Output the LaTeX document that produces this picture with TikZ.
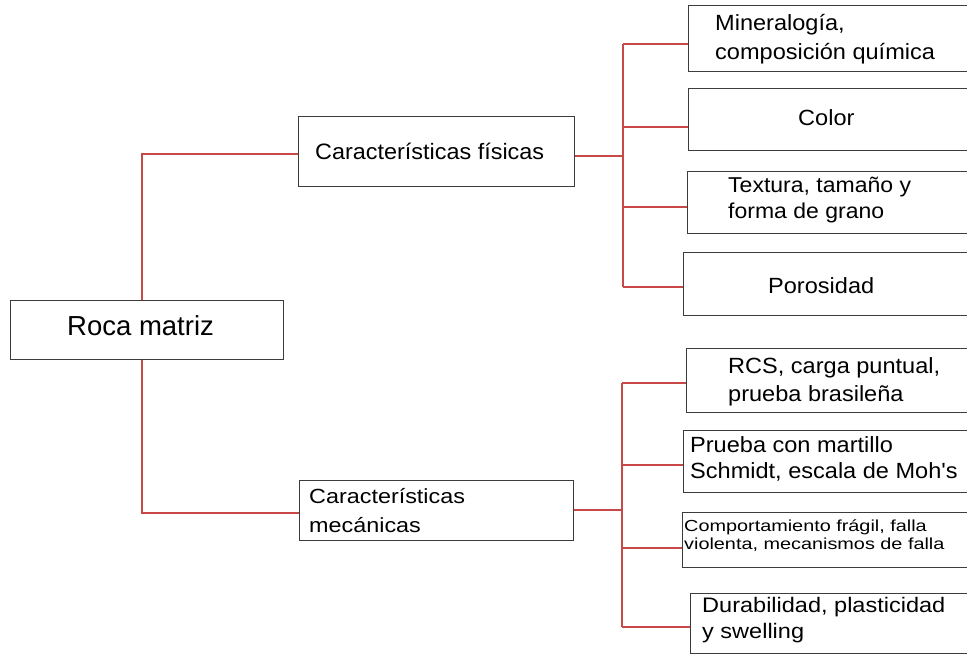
\documentclass[tikz,border=0pt]{standalone}
\usepackage{fontspec}
\setmainfont{Liberation Sans}[Ligatures=TeXOff]
% text in a given horizontal stretch and size
\newcommand\txtfont[2]{\addfontfeatures{FakeStretch=#1}\fontsize{#2}{#2}\selectfont}
% two lines, baseline of the whole on the first line
\newcommand\twoline[3]{\vtop{\baselineskip=#1pt\lineskiplimit=0pt\hbox{#2}\hbox{#3}}}
\definecolor{linkred}{RGB}{200,72,72}
\definecolor{boxline}{RGB}{60,60,60}
\tikzset{
  box/.style={draw=boxline, line width=1.3pt, fill=white, rectangle, inner sep=0pt, anchor=north west},
  txt/.style={inner sep=0pt, anchor=base west, text=black},
  link/.style={draw=linkred, line width=1.2pt}
}
\begin{document}
\begin{tikzpicture}[x=1pt, y=-1pt]
\useasboundingbox (0,0) rectangle (967,656);

% main boxes
\node[box, minimum width=273pt, minimum height=59pt] (root) at (10,300) {};
\node[box, minimum width=276pt, minimum height=70pt] (phys) at (298,116) {};
\node[box, minimum width=274pt, minimum height=60pt] (mech) at (299,480) {};

% leaf boxes (their right sides run past the page edge)
\node[box, minimum width=287pt, minimum height=66pt] (b1) at (688,5) {};
\node[box, minimum width=287pt, minimum height=62pt] (b2) at (688,88) {};
\node[box, minimum width=288pt, minimum height=62pt] (b3) at (687,171) {};
\node[box, minimum width=292pt, minimum height=63pt] (b4) at (683,252) {};
\node[box, minimum width=289pt, minimum height=64pt] (b5) at (686,348) {};
\node[box, minimum width=292pt, minimum height=62pt] (b6) at (683,430) {};
\node[box, minimum width=293pt, minimum height=55pt] (b7) at (682,512) {};
\node[box, minimum width=285pt, minimum height=60pt] (b8) at (690,593) {};

% labels
\node[txt] (troot) at (67,335) {\txtfont{1.0}{27.5}Roca matriz};
\node[txt] (tphys) at (315,159) {\txtfont{1.05}{22.3}Características físicas};
\node[txt] (tmech) at (309,503) {\txtfont{1.14}{20.5}\twoline{29}{Características}{mecánicas}};

\node[txt] (t1) at (715,30) {\txtfont{1.07}{22}\twoline{29}{Mineralogía,}{composición química}};
\node[txt] (t2) at (798,125) {\txtfont{1.07}{22}Color};
\node[txt] (t3) at (728,192) {\txtfont{1.07}{21.5}\twoline{26}{Textura, tamaño y}{forma de grano}};
\node[txt] (t4) at (768,293) {\txtfont{1.07}{22}Porosidad};
\node[txt] (t5) at (728,373) {\txtfont{1.07}{22}\twoline{28}{RCS, carga puntual,}{prueba brasileña}};
\node[txt] (t6) at (690,452) {\txtfont{1.07}{22}\twoline{26.5}{Prueba con martillo}{Schmidt, escala de Moh's}};
\node[txt] (t7) at (684,531) {\txtfont{1.24}{16}\twoline{18.5}{Comportamiento frágil, falla}{violenta, mecanismos de falla}};
\node[txt] (t8) at (702,612) {\txtfont{1.12}{21}\twoline{26.5}{Durabilidad, plasticidad}{y swelling}};

% root to the two groups
\coordinate (rt) at (142,154);
\coordinate (rb) at (142,513);
\draw[link] (root.north -| rt) -- (rt) -- (rt -| phys.west);
\draw[link] (root.south -| rb) -- (rb) -- (rb -| mech.west);

% physical group
\coordinate (ps) at (623,156);
\draw[link] (ps -| phys.east) -- (ps);
\foreach \y/\b [count=\i] in {44/b1,127/b2,207/b3,287/b4}{
  \coordinate (pj\i) at (623,\y);
  \draw[link] (pj\i) -- (pj\i -| \b.west);
}
\draw[link] (pj1) -- (pj4);

% mechanical group
\coordinate (ms) at (622,510);
\draw[link] (ms -| mech.east) -- (ms);
\foreach \y/\b [count=\i] in {383/b5,465/b6,548/b7,627/b8}{
  \coordinate (mj\i) at (622,\y);
  \draw[link] (mj\i) -- (mj\i -| \b.west);
}
\draw[link] (mj1) -- (mj4);
\end{tikzpicture}
\end{document}
